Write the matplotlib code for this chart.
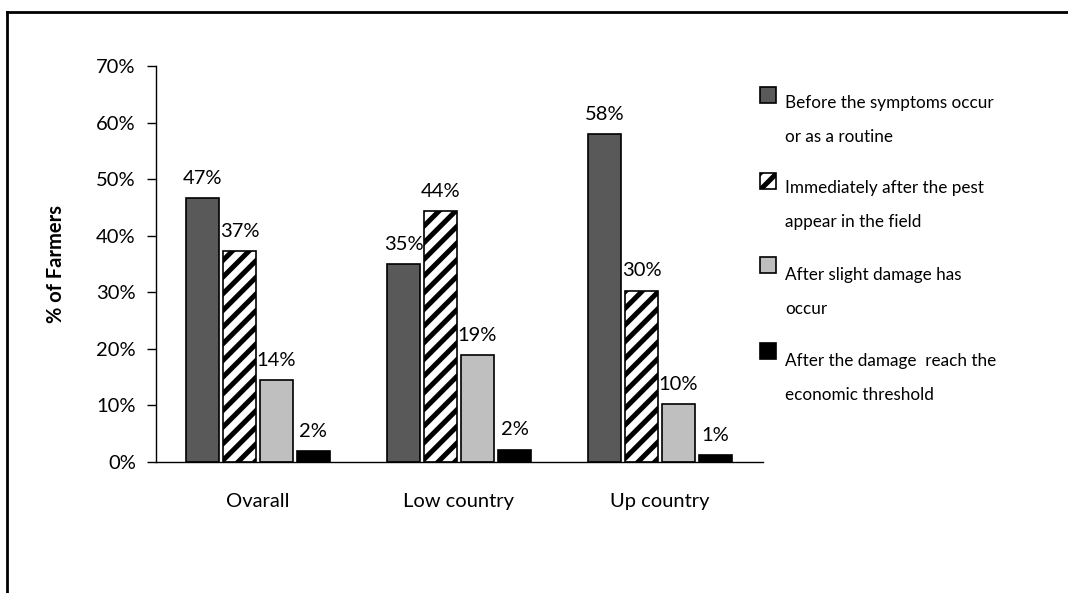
import matplotlib
matplotlib.use("Agg")
import matplotlib.pyplot as plt
import numpy as np
from matplotlib.patches import Rectangle
from matplotlib.lines import Line2D

categories = ["Ovarall", "Low country", "Up country"]
series_names = [
    "Before the symptoms occur\nor as a routine",
    "Immediately after the pest\nappear in the field",
    "After slight damage has\noccur",
    "After the damage  reach the\neconomic threshold",
]
before_symptoms = [46.6, 35.0, 58.0]
immediately_after = [37.3, 44.4, 30.3]
slight_damage = [14.5, 18.9, 10.2]
economic_threshold = [1.9, 2.2, 1.2]
value_labels = [
    ["47%", "35%", "58%"],
    ["37%", "44%", "30%"],
    ["14%", "19%", "10%"],
    ["2%", "2%", "1%"],
]
yticks = [0, 10, 20, 30, 40, 50, 60, 70]

series = [before_symptoms, immediately_after, slight_damage, economic_threshold]
colors = ["#595959", "white", "#bfbfbf", "black"]
hatches = [None, "//", None, None]

plt.rcParams["font.family"] = ["Lato", "DejaVu Sans"]
plt.rcParams["hatch.linewidth"] = 3.6

FS = 14.5
W, H = 1068, 593
fig = plt.figure(figsize=(W / 100, H / 100), dpi=100)
ax = fig.add_axes([156 / W, 1 - 462 / H, (763 - 156) / W, (462 - 66) / H])

x = np.arange(len(categories))
step = 0.184
width = 0.16
for i, (vals, c, h) in enumerate(zip(series, colors, hatches)):
    pos = x + (i - 1.5) * step
    bars = ax.bar(pos, vals, width=width, color=c, edgecolor="black",
                  linewidth=1.2, hatch=h, zorder=2)
    for b, lab in zip(bars, value_labels[i]):
        ax.annotate(lab, (b.get_x() + b.get_width() / 2, b.get_height()),
                    xytext=(0, 8), textcoords="offset points",
                    ha="center", va="bottom", fontsize=FS)

ax.set_xlim(-0.507, 2.512)
ax.set_ylim(0, 70)
ax.set_yticks(yticks)
ax.set_yticklabels([f"{t}%" for t in yticks], fontsize=FS)
ax.set_xticks(x)
ax.set_xticklabels(categories, fontsize=FS)
ax.tick_params(axis="x", length=0, pad=22)
ax.tick_params(axis="y", length=6.5, width=1, pad=8, direction="out")
for s in ["top", "right"]:
    ax.spines[s].set_visible(False)
ax.spines["left"].set_linewidth(1)
ax.spines["bottom"].set_linewidth(1)
ax.set_ylabel("% of Farmers", fontsize=FS, fontweight="bold", labelpad=22)

# legend drawn manually
leg_y = [87, 173, 257, 343]
leg_off = [16, 15, 18, 18]
for i, yy in enumerate(leg_y):
    r = Rectangle((760 / W, 1 - (yy + 16) / H), 16 / W, 16 / H,
                  transform=fig.transFigure, facecolor=colors[i],
                  edgecolor="black", linewidth=1.2, hatch=hatches[i])
    fig.patches.append(r)
    lines = series_names[i].split("\n")
    for j, t in enumerate(lines):
        fig.text(785 / W, 1 - (yy + leg_off[i] + j * 34) / H, t, fontsize=12.3,
                 ha="left", va="center")

# outer frame
fig.add_artist(Line2D([7 / W, 7 / W], [0, 1 - 12 / H], transform=fig.transFigure,
                      color="black", linewidth=2))
fig.add_artist(Line2D([7 / W, 1], [1 - 12 / H, 1 - 12 / H], transform=fig.transFigure,
                      color="black", linewidth=2))

fig.savefig("out.png", dpi=100)
